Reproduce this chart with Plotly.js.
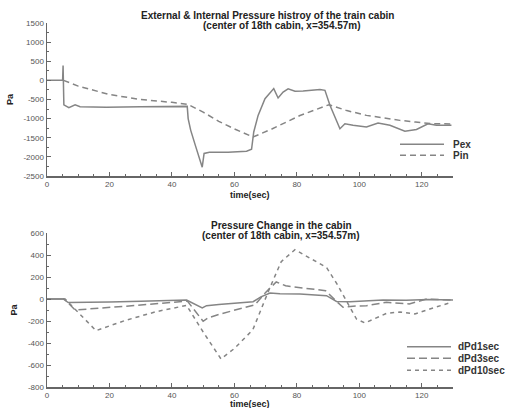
<!DOCTYPE html>
<html>
<head>
<meta charset="utf-8">
<script src="https://cdn.plot.ly/plotly-3.0.1.min.js"></script>
<style>html,body{margin:0;padding:0;background:#fff}#chart{width:508px;height:408px}</style>
</head>
<body>
<div id="chart"></div>
<script>
// ---- Data ----
const tPex = [0, 5, 5.15, 5.25, 5.4, 7, 9, 10.6, 19, 30, 42, 44.9, 45.2, 46, 47.5, 49.7, 50.3, 52, 58, 63.9, 65.5, 66.2, 67.6, 69.8, 72.6, 74, 75.6, 77.2, 79.4, 82, 87.4, 89, 90.6, 93.8, 95.4, 98, 102.3, 106, 109.8, 114.6, 118.3, 122, 124.7, 129.5];
const pex  = [0, 0, 390, 100, -640, -715, -640, -690, -705, -690, -675, -680, -1000, -1300, -1700, -2270, -1910, -1880, -1880, -1850, -1800, -1350, -915, -480, -215, -460, -305, -220, -285, -280, -240, -260, -650, -1265, -1135, -1175, -1220, -1115, -1175, -1330, -1285, -1135, -1175, -1175];

const tPin = [5.3, 10, 20, 30, 40, 45, 50, 55, 60, 66, 72, 81, 90.3, 96, 102.3, 108, 113, 118, 123.6, 130];
const pin  = [0, -150, -370, -500, -575, -625, -830, -1070, -1270, -1480, -1270, -920, -636, -790, -915, -990, -1046, -1090, -1133, -1140];

const tD1 = [0, 5.2, 6.8, 10, 20, 30, 40, 44.7, 49.7, 51.1, 55, 60, 66, 68.5, 71.4, 74.6, 81, 89.5, 92.7, 97, 107.6, 115, 122, 130];
const d1  = [0, 0, -32, -32, -27, -20, -12, -9, -82, -61, -50, -38, -25, 20, 55, 48, 45, 30, -22, -25, -9, -12, -5, -10];

const tD3 = [0, 5.5, 9, 20, 30, 40, 45, 50, 51.5, 55, 60, 66.6, 70, 73.4, 76.4, 81, 89.2, 92.7, 94.8, 98, 102.3, 108.7, 116, 121.5, 125, 129.5];
const d3  = [0, 0, -100, -80, -55, -30, -20, -203, -173, -140, -100, -52, 60, 155, 120, 105, 75, -22, -75, -65, -61, -30, -45, 0, -5, -9];

const tD10 = [0, 5.8, 15.7, 25, 35, 44.7, 50, 55.7, 60, 65.9, 71.4, 75, 79.4, 85, 89.5, 93, 96.6, 99.1, 101.8, 108.7, 113, 117.8, 122.6, 129.5];
const d10  = [0, 0, -288, -195, -115, -58, -300, -545, -450, -280, 105, 340, 448, 360, 287, 130, -60, -182, -218, -131, -118, -136, -91, -30];

const xTicks = [0, 20, 40, 60, 80, 100, 120];
const yTicksTop = [-2500, -2000, -1500, -1000, -500, 0, 500, 1000, 1500];
const yTicksBot = [-800, -600, -400, -200, 0, 200, 400, 600];

const topNames = ['Pex', 'Pin'];
const botNames = ['dPd1sec', 'dPd3sec', 'dPd10sec'];
const topTitle = ['External &amp; Internal Pressure histroy of the train cabin', '(center of 18th cabin, x=354.57m)'];
const botTitle = ['Pressure Change in the cabin', '(center of 18th cabin, x=354.57m)'];
const xTitle = 'time(sec)';
const yTitle = 'Pa';

// ---- Styles ----
const FONT = 'Liberation Sans, Arial, sans-serif';
const LC = '#858585';
const AX = '#666';
const topDash = ['solid', '6px,4px'];
const botDash = ['solid', '8px,4px', '4px,4px'];

const L = 47, R = 453, T = 23, B = 387;
const px = v => (v - L) / (R - L);
const py = v => (B - v) / (B - T);

const traces = [
  {x: tPex, y: pex, name: topNames[0], xaxis: 'x', yaxis: 'y', mode: 'lines', line: {color: LC, width: 1.5, dash: topDash[0]}},
  {x: tPin, y: pin, name: topNames[1], xaxis: 'x', yaxis: 'y', mode: 'lines', line: {color: LC, width: 1.5, dash: topDash[1]}},
  {x: tD1, y: d1, name: botNames[0], xaxis: 'x2', yaxis: 'y2', mode: 'lines', line: {color: LC, width: 1.5, dash: botDash[0]}},
  {x: tD3, y: d3, name: botNames[1], xaxis: 'x2', yaxis: 'y2', mode: 'lines', line: {color: LC, width: 1.5, dash: botDash[1]}},
  {x: tD10, y: d10, name: botNames[2], xaxis: 'x2', yaxis: 'y2', mode: 'lines', line: {color: LC, width: 1.5, dash: botDash[2]}}
];

function xAx(anchor) {
  return {
    anchor: anchor, domain: [0, 1], range: [0, 130],
    tickvals: xTicks, ticktext: xTicks.map(String),
    ticks: 'inside', ticklen: 4, tickwidth: 1, tickcolor: AX,
    minor: {dtick: 5, tick0: 0, ticks: 'inside', ticklen: 2, tickcolor: AX},
    showline: true, linecolor: AX, linewidth: 1.5,
    showgrid: false, zeroline: false,
    tickfont: {family: FONT, size: 8, color: '#555'}
  };
}
function yAx(anchor, domain, range, vals, minorD) {
  return {
    anchor: anchor, domain: domain, range: range,
    tickvals: vals, ticktext: vals.map(String),
    ticks: 'inside', ticklen: 4, tickwidth: 1, tickcolor: AX,
    minor: {dtick: minorD, ticks: 'inside', ticklen: 2, tickcolor: AX},
    showline: true, linecolor: AX, linewidth: 1.5,
    showgrid: false, zeroline: false,
    tickfont: {family: FONT, size: 8, color: '#555'},
    title: {text: '<b>' + yTitle + '</b>', font: {family: FONT, size: 9, color: '#222'}, standoff: 8}
  };
}

const annotations = [];
const shapes = [];
function txt(s, x, y, size, anchor) {
  annotations.push({
    text: '<b>' + s + '</b>', xref: 'paper', yref: 'paper', x: px(x), y: py(y),
    xanchor: anchor || 'center', yanchor: 'middle', showarrow: false,
    font: {family: FONT, size: size, color: '#222'}
  });
}
txt(topTitle[0], 267, 15, 10);
txt(topTitle[1], 282, 26, 10);
txt(botTitle[0], 281, 225, 10);
txt(botTitle[1], 281, 236, 10);
txt(xTitle, 250, 195, 9);
txt(xTitle, 250, 403.5, 9);

function legend(names, dashes, x0, x1, xt, ys) {
  names.forEach((n, i) => {
    shapes.push({type: 'line', xref: 'paper', yref: 'paper', x0: px(x0), x1: px(x1), y0: py(ys[i]), y1: py(ys[i]),
      line: {color: LC, width: 1.5, dash: dashes[i]}});
    annotations.push({text: '<b>' + n + '</b>', xref: 'paper', yref: 'paper', x: px(xt), y: py(ys[i]),
      xanchor: 'left', yanchor: 'middle', showarrow: false, font: {family: FONT, size: 10, color: '#333'}});
  });
}
legend(topNames, topDash, 400, 444, 451, [144.3, 155.3]);
legend(botNames, botDash, 407, 451, 456, [346.7, 358.3, 370.3]);

const layout = {
  width: 508, height: 408,
  margin: {l: L, r: 508 - R, t: T, b: 408 - B},
  paper_bgcolor: '#fff', plot_bgcolor: '#fff',
  showlegend: false,
  xaxis: xAx('y'),
  yaxis: yAx('x', [py(176), 1], [-2500, 1500], yTicksTop, 250),
  xaxis2: xAx('y2'),
  yaxis2: yAx('x2', [0, py(233)], [-800, 600], yTicksBot, 100),
  annotations: annotations,
  shapes: shapes
};

Plotly.newPlot('chart', traces, layout, {staticPlot: true, displayModeBar: false});
</script>
</body>
</html>
